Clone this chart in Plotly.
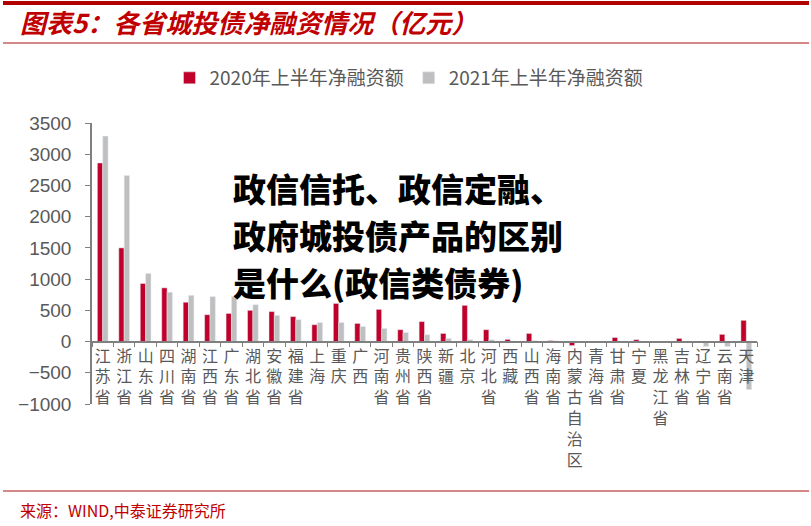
import plotly.graph_objects as go

# provinces, top to bottom characters stacked
provinces = ['江苏省', '浙江省', '山东省', '四川省', '湖南省', '江西省', '广东省', '湖北省',
             '安徽省', '福建省', '上海', '重庆', '广西', '河南省', '贵州省', '陕西省', '新疆',
             '北京', '河北省', '西藏', '山西省', '海南省', '内蒙古自治区', '青海省', '甘肃省',
             '宁夏', '黑龙江省', '吉林省', '辽宁省', '云南省', '天津']
net2020 = [2860, 1500, 930, 860, 630, 430, 450, 500, 480, 400, 270, 610, 290, 515, 190,
           320, 130, 580, 190, 35, 130, 15, -65, 5, 65, 30, -20, 50, 5, 115, 340]
net2021 = [3290, 2660, 1090, 790, 740, 720, 720, 590, 420, 350, 305, 305, 240, 210, 145,
           110, 50, 30, 30, 10, 15, 10, -5, 5, 5, 5, -10, 5, -80, -80, -770]
yTicks = [-1000, -500, 0, 500, 1000, 1500, 2000, 2500, 3000, 3500]
legendNames = ['2020年上半年净融资额', '2021年上半年净融资额']

RED = '#C0002B'
GREY = '#BFBFBF'
CJK = 'Noto Sans CJK SC'

# stack the characters vertically like the original
catLabels = ['<br>'.join(list(p)) for p in provinces]

# pixel -> paper helpers (plot box 92..757 x, 123..404 y)
def px(x):
    return (x - 92) / 665

def py(y):
    return (404 - y) / 281

fig = go.Figure()
fig.add_trace(go.Bar(x=catLabels, y=net2020, name=legendNames[0], marker_color=RED))
fig.add_trace(go.Bar(x=catLabels, y=net2021, name=legendNames[1], marker_color=GREY))

fig.update_layout(
    width=811, height=526,
    margin=dict(l=92, r=54, t=123, b=122, pad=0),
    paper_bgcolor='white', plot_bgcolor='white',
    barmode='group', bargap=0.5, bargroupgap=0,
    legend=dict(orientation='h', x=px(409), y=py(78), xanchor='center', yanchor='middle',
                font=dict(family=CJK, size=19, color='#595959'), itemwidth=30),
    xaxis=dict(type='category', anchor='free', position=1000 / 4500,
               showline=True, linecolor='#808080', linewidth=1.5,
               ticks='outside', tickson='boundaries', ticklen=5, tickcolor='#808080',
               tickangle=0, tickfont=dict(family=CJK, size=16, color='#595959'),
               automargin=False),
    yaxis=dict(range=[-1000, 3500], tickvals=yTicks, showgrid=False, zeroline=False,
               showline=True, linecolor='#808080', linewidth=1.5,
               ticks='outside', ticklen=5, tickcolor='#808080', ticklabelstandoff=10,
               tickfont=dict(family='Liberation Sans', size=19, color='#595959'),
               automargin=False),
)

# header / footer rules
fig.add_shape(type='line', xref='paper', yref='paper', x0=px(3), x1=px(809), y0=py(3), y1=py(3),
              line=dict(color='#B00000', width=4))
fig.add_shape(type='line', xref='paper', yref='paper', x0=px(3), x1=px(809), y0=py(43), y1=py(43),
              line=dict(color='#C86060', width=1.5))
fig.add_shape(type='line', xref='paper', yref='paper', x0=px(3), x1=px(809), y0=py(491), y1=py(491),
              line=dict(color='#C86060', width=1.5))

fig.add_annotation(text='图表5：各省城投债净融资情况（亿元）', xref='paper', yref='paper',
                   x=px(18), y=py(22), xanchor='left', yanchor='middle', showarrow=False,
                   font=dict(family=CJK, size=26, color='#C00000', weight='bold', style='italic'))
fig.add_annotation(text='来源：WIND,中泰证券研究所', xref='paper', yref='paper',
                   x=px(18), y=py(510), xanchor='left', yanchor='middle', showarrow=False,
                   font=dict(family=CJK, size=16, color='#C00000'))

# overlaid headline
overlay = ['政信信托、政信定融、', '政府城投债产品的区别', '是什么(政信类债券)']
for i, line in enumerate(overlay):
    fig.add_annotation(text=line, xref='paper', yref='paper', x=px(231), y=py(188 + 47 * i),
                       xanchor='left', yanchor='middle', showarrow=False,
                       font=dict(family=CJK, size=33, color='black', weight=900))

# drop the default body margin so the figure sits at the window corner
fig.write_html('out.html', config={'displayModeBar': False},
               post_script="document.body.style.margin='0';")
